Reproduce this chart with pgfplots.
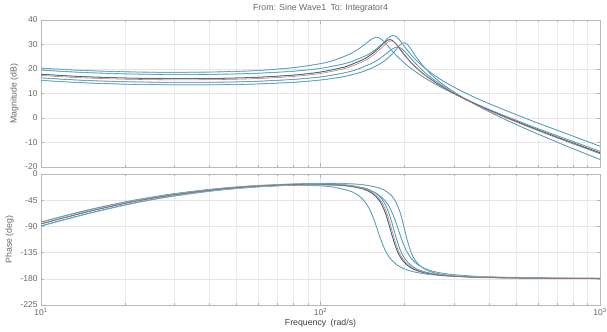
\documentclass[border=0pt]{standalone}
\usepackage{fontspec}
\setmainfont{Liberation Sans}
\usepackage{pgfplots}
\pgfplotsset{compat=1.18}
\definecolor{labelgray}{RGB}{105,105,105}
\definecolor{blueL}{RGB}{150,200,218}
\definecolor{blueD}{RGB}{55,125,160}
\definecolor{blueX}{RGB}{30,70,105}
\definecolor{redC}{RGB}{214,110,80}
\tikzset{
  bl/.style={color=blueD, line width=0.3bp, smooth, tension=0.5, preaction={draw=blueL, line width=1.0bp}},
  bx/.style={color=blueX, line width=0.5bp, smooth, tension=0.5, preaction={draw=blueL, line width=1.1bp}},
  rd/.style={color=redC, line width=0.55bp, smooth, tension=0.5},
}
\begin{document}
\begin{tikzpicture}
\fill[white] (-41bp,-165bp) rectangle (566bp,167bp);
% ---------------- Magnitude ----------------
\begin{axis}[scale only axis, width=559bp, height=147bp, at={(0,0)}, anchor=south west,
  xmode=log, log basis x=10, xmin=10, xmax=1000,
  grid=both,
  major grid style={draw=gray!20, line width=0.4bp},
  minor grid style={draw=gray!15, line width=0.4bp},
  axis line style={draw=gray!55, line width=0.5bp},
  tick style={draw=gray!60, line width=0.4bp},
  tick align=inside, major tick length=3.5bp, minor tick length=2bp,
  tick label style={font=\fontsize{8.5}{9}\selectfont, text=labelgray},
  label style={font=\fontsize{8.8}{10}\selectfont, text=labelgray},
  /pgf/number format/assume math mode=true,
  xtick={10,100,1000},
  minor xtick={20,30,40,50,60,70,80,90,200,300,400,500,600,700,800,900},
  ymin=-20, ymax=40, ytick={-20,-10,0,10,20,30,40},
  xticklabels={,,},
  ylabel={Magnitude (dB)},
  title={From: Sine Wave1\enspace To: Integrator4},
  title style={font=\fontsize{8.8}{10}\selectfont, text=labelgray, yshift=-2bp},
]
\addplot[bl] coordinates {(10,20.39)(12,19.82)(15,19.29)(20,18.86)(25,18.69)(30,18.65)(40,18.75)(50,19.02)(60,19.40)(80,20.55)(100,22.19)(112,23.59)(128,26.23)(137.6,28.37)(144,30.05)(148.8,31.35)(153.6,32.44)(156.8,32.86)(160,32.89)(163.2,32.52)(168,31.35)(172.8,29.84)(179.2,27.77)(188.8,25.01)(200,22.35)(216,19.33)(240,15.86)(272,12.36)(320,8.40)(400,3.56)(512,-1.33)(640,-5.53)(1000,-13.61)};
\addplot[bl] coordinates {(10,19.59)(12,19.01)(15,18.47)(20,18.02)(25,17.84)(30,17.78)(40,17.82)(50,17.99)(60,18.28)(80,19.09)(100,20.25)(120,21.98)(128.1,22.87)(146.4,25.62)(157.4,27.93)(164.7,29.85)(170.2,31.44)(175.7,32.91)(179.3,33.55)(183,33.68)(186.7,33.21)(192.2,31.72)(197.6,29.88)(205,27.52)(215.9,24.52)(228.8,21.74)(247.1,18.64)(274.5,15.12)(311.1,11.69)(366,7.81)(457.5,3.18)(585.6,-1.63)(732,-5.73)(1000,-11.51)};
\addplot[bl] coordinates {(10,16.38)(12,15.81)(15,15.26)(20,14.82)(25,14.63)(30,14.56)(40,14.58)(50,14.74)(60,15.00)(80,15.75)(100,16.77)(120,18.29)(133,19.59)(152,22.23)(163.4,24.37)(171,26.05)(176.7,27.35)(182.4,28.44)(186.2,28.86)(190,28.89)(193.8,28.52)(199.5,27.35)(205.2,25.84)(212.8,23.77)(224.2,21.01)(237.5,18.35)(256.5,15.33)(285,11.86)(323,8.36)(380,4.40)(475,-0.44)(608,-5.33)(760,-9.53)(1000,-14.54)};
\addplot[bl] coordinates {(10,15.38)(12,14.80)(15,14.26)(20,13.81)(25,13.62)(30,13.54)(40,13.55)(50,13.68)(60,13.91)(80,14.56)(100,15.50)(120,16.83)(140,18.71)(160,21.53)(172,23.95)(180,26.03)(186,27.83)(192,29.63)(196,30.50)(200,30.72)(204,30.16)(210,28.36)(216,26.24)(224,23.66)(236,20.51)(250,17.55)(270,14.30)(300,10.66)(340,6.91)(400,2.63)(500,-2.62)(640,-7.92)(800,-12.53)(1000,-16.90)};
\addplot[bx] coordinates {(10,17.89)(12,17.31)(15,16.77)(20,16.33)(25,16.15)(30,16.09)(40,16.14)(50,16.33)(60,16.64)(80,17.51)(100,18.76)(120,20.64)(124.6,21.17)(142.4,23.92)(153.1,26.23)(160.2,28.15)(165.5,29.74)(170.9,31.21)(174.4,31.85)(178,31.98)(181.6,31.51)(186.9,30.02)(192.2,28.18)(199.4,25.82)(210,22.82)(222.5,20.04)(240.3,16.94)(267,13.42)(302.6,9.89)(356,5.91)(445,1.08)(569.6,-3.83)(712,-8.03)(1000,-14.20)};
\addplot[rd] coordinates {(10,17.39)(12,16.81)(15,16.27)(20,15.83)(25,15.65)(30,15.58)(40,15.63)(50,15.82)(60,16.11)(80,16.96)(100,18.17)(120,19.99)(126,20.67)(144,23.42)(154.8,25.73)(162,27.65)(167.4,29.24)(172.8,30.71)(176.4,31.35)(180,31.48)(183.6,31.01)(189,29.52)(194.4,27.68)(201.6,25.32)(212.4,22.32)(225,19.54)(243,16.44)(270,12.92)(306,9.39)(360,5.41)(450,0.58)(576,-4.33)(720,-8.53)(1000,-14.50)};
\end{axis}
% ---------------- Phase ----------------
\begin{axis}[scale only axis, width=559bp, height=131bp, at={(0,-7bp)}, anchor=north west,
  xmode=log, log basis x=10, xmin=10, xmax=1000,
  grid=both,
  major grid style={draw=gray!20, line width=0.4bp},
  minor grid style={draw=gray!15, line width=0.4bp},
  axis line style={draw=gray!55, line width=0.5bp},
  tick style={draw=gray!60, line width=0.4bp},
  tick align=inside, major tick length=3.5bp, minor tick length=2bp,
  tick label style={font=\fontsize{8.5}{9}\selectfont, text=labelgray},
  label style={font=\fontsize{8.8}{10}\selectfont, text=labelgray},
  /pgf/number format/assume math mode=true,
  xtick={10,100,1000},
  minor xtick={20,30,40,50,60,70,80,90,200,300,400,500,600,700,800,900},
  ymin=-225, ymax=0, ytick={-225,-180,-135,-90,-45,0},
  xticklabels={10\textsuperscript{1},10\textsuperscript{2},10\textsuperscript{3}},
  ylabel={Phase (deg)},
  xlabel={Frequency\enspace(rad/s)},
  xlabel style={yshift=3bp, text=black!75},
]
\addplot[bl] coordinates {(10,-82.75)(12,-72.68)(15,-61.18)(20,-48.31)(25,-40.05)(30,-34.30)(40,-27.25)(50,-23.27)(60,-20.99)(80,-19.24)(100,-20.36)(112,-22.78)(128,-29.59)(137.6,-37.95)(144,-47.42)(148.8,-57.80)(153.6,-72.09)(156.8,-83.66)(160,-96.23)(163.2,-108.51)(168,-124.43)(172.8,-136.37)(179.2,-147.16)(188.8,-156.88)(200,-163.19)(216,-168.12)(240,-171.95)(272,-174.47)(320,-176.32)(400,-177.59)(512,-178.35)(640,-178.86)(1000,-179.30)};
\addplot[bl] coordinates {(10,-82.57)(12,-72.46)(15,-60.91)(20,-47.95)(25,-39.60)(30,-33.75)(40,-26.47)(50,-22.24)(60,-19.65)(80,-17.03)(100,-16.57)(120,-18.09)(128.1,-19.38)(146.4,-25.21)(157.4,-32.73)(164.7,-41.45)(170.2,-51.76)(175.7,-67.07)(179.3,-80.46)(183,-95.45)(186.7,-110.14)(192.2,-128.29)(197.6,-140.85)(205,-151.46)(215.9,-160.32)(228.8,-165.96)(247.1,-170.23)(274.5,-173.43)(311.1,-175.50)(366,-177.02)(457.5,-178.08)(585.6,-178.70)(732,-179.06)(1000,-179.40)};
\addplot[bl] coordinates {(10,-89.34)(12,-79.15)(15,-67.12)(20,-53.30)(25,-44.18)(30,-37.87)(40,-29.77)(50,-25.11)(60,-22.21)(80,-19.26)(100,-18.67)(120,-20.11)(133,-22.34)(152,-29.19)(163.4,-37.57)(171,-47.07)(176.7,-57.46)(182.4,-71.76)(186.2,-83.33)(190,-95.91)(193.8,-108.19)(199.5,-124.13)(205.2,-136.07)(212.8,-146.88)(224.2,-156.61)(237.5,-162.93)(256.5,-167.88)(285,-171.74)(323,-174.28)(380,-176.16)(475,-177.46)(608,-178.25)(760,-178.78)(1000,-179.12)};
\addplot[bl] coordinates {(10,-89.17)(12,-78.95)(15,-66.86)(20,-52.95)(25,-43.75)(30,-37.34)(40,-29.05)(50,-24.19)(60,-21.05)(80,-17.54)(100,-16.15)(120,-16.35)(140,-18.12)(160,-23.12)(172,-29.73)(180,-37.84)(186,-47.84)(192,-63.75)(196,-78.43)(200,-95.62)(204,-112.40)(210,-132.25)(216,-145.00)(224,-155.21)(236,-163.36)(250,-168.39)(270,-172.16)(300,-174.84)(340,-176.60)(400,-177.81)(500,-178.75)(640,-179.15)(800,-179.40)(1000,-179.52)};
\addplot[bx] coordinates {(10,-85.69)(12,-75.58)(15,-63.73)(20,-50.38)(25,-41.63)(30,-35.59)(40,-27.94)(50,-23.43)(60,-20.67)(80,-17.93)(100,-17.52)(120,-19.30)(124.6,-20.06)(142.4,-25.80)(153.1,-33.28)(160.2,-41.98)(165.5,-52.27)(170.9,-67.57)(174.4,-80.94)(178,-95.92)(181.6,-110.60)(186.9,-128.74)(192.2,-141.28)(199.4,-151.89)(210,-160.72)(222.5,-166.34)(240.3,-170.59)(267,-173.75)(302.6,-175.78)(356,-177.26)(445,-178.27)(569.6,-178.85)(712,-179.18)(1000,-179.45)};
\addplot[rd] coordinates {(10,-85.68)(12,-75.57)(15,-63.72)(20,-50.37)(25,-41.62)(30,-35.57)(40,-27.91)(50,-23.39)(60,-20.62)(80,-17.85)(100,-17.37)(120,-19.00)(126,-19.97)(144,-25.72)(154.8,-33.21)(162,-41.91)(167.4,-52.20)(172.8,-67.50)(176.4,-80.88)(180,-95.86)(183.6,-110.54)(189,-128.68)(194.4,-141.22)(201.6,-151.83)(212.4,-160.66)(225,-166.29)(243,-170.54)(270,-173.70)(306,-175.74)(360,-177.23)(450,-178.24)(576,-178.83)(720,-179.16)(1000,-179.45)};
\end{axis}
\pgfresetboundingbox
\useasboundingbox (-41bp,-165bp) rectangle (566bp,167bp);
\end{tikzpicture}
\end{document}
